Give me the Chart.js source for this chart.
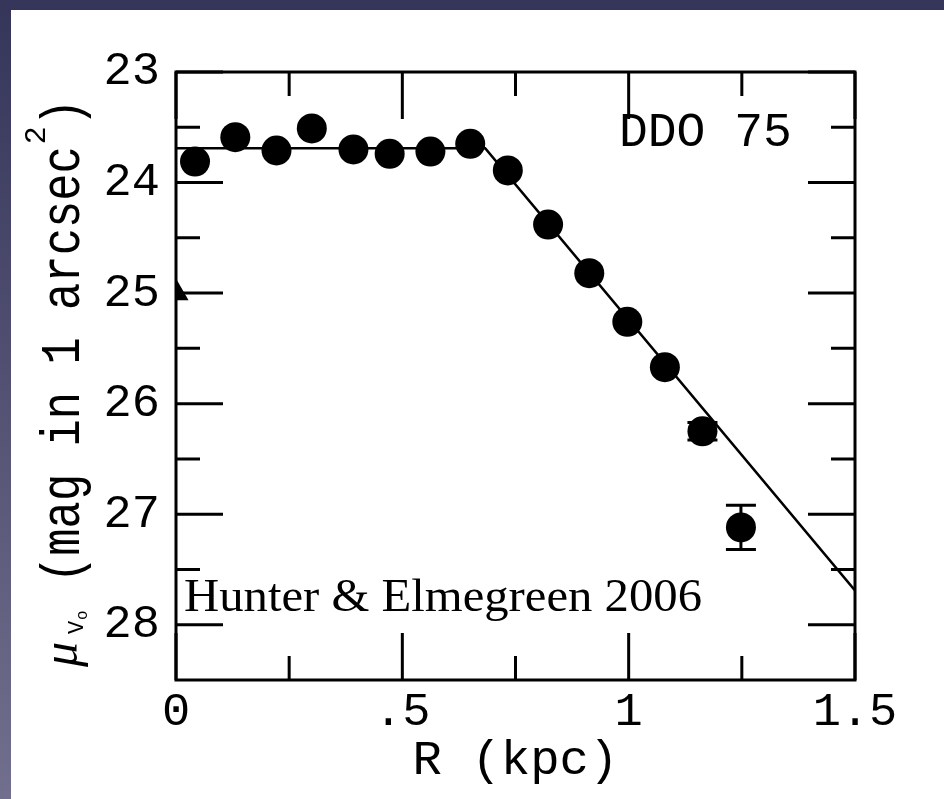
<!DOCTYPE html>
<html>
<head>
<meta charset="utf-8">
<title>DDO 75 surface brightness</title>
<script src="https://cdn.jsdelivr.net/npm/chart.js@4.4.1/dist/chart.umd.min.js"></script>
<style>
  html, body { margin: 0; padding: 0; }
  body { width: 944px; height: 799px; overflow: hidden; background: #fff; }
  canvas { display: block; }
</style>
</head>
<body>
<canvas id="profile" width="944" height="799"></canvas>
<script>
// V-band surface brightness profile of DDO 75
const radius = [0.042, 0.131, 0.222, 0.300, 0.392, 0.472, 0.562, 0.650, 0.733, 0.822, 0.913, 0.997, 1.080, 1.163, 1.248];
const muV = [23.81, 23.59, 23.71, 23.51, 23.70, 23.74, 23.72, 23.65, 23.89, 24.38, 24.82, 25.26, 25.67, 26.25, 27.12];
const muErr = [0, 0, 0, 0, 0, 0, 0, 0, 0, 0, 0, 0, 0, 0.08, 0.20];

// broken exponential fit: flat inner part, then linear fall-off
const fitR = [0, 0.683, 1.5];
const fitMu = [23.69, 23.69, 27.69];

// central value, drawn as a triangle on the axis
const centerR = [0];
const centerMu = [25.0];

// axis ticks
const xTicks = [0, 0.5, 1, 1.5];
const xTickLabels = ['0', '.5', '1', '1.5'];
const xMinor = [0.25, 0.75, 1.25];
const yTicks = [23, 24, 25, 26, 27, 28];
const yMinor = [23.5, 24.5, 25.5, 26.5, 27.5];

const MONO = '"Liberation Mono", "DejaVu Sans Mono", monospace';

// slide background and white panel
const backdrop = {
    id: 'backdrop',
    beforeDraw(chart) {
        const ctx = chart.ctx;
        ctx.save();
        const g = ctx.createLinearGradient(0, 0, 0, chart.height);
        g.addColorStop(0, '#35355a');
        g.addColorStop(1, '#716f8d');
        ctx.fillStyle = g;
        ctx.fillRect(0, 0, chart.width, chart.height);
        ctx.fillStyle = '#ffffff';
        ctx.fillRect(11, 10, chart.width - 11, chart.height - 10);
        ctx.restore();
    }
};

// box frame with inward ticks on all four sides
const frame = {
    id: 'frame',
    beforeDatasetsDraw(chart) {
        const {ctx, chartArea: a, scales: {x, y}} = chart;
        ctx.save();
        ctx.strokeStyle = '#000';
        ctx.lineWidth = 3;
        ctx.lineCap = 'square';
        ctx.strokeRect(a.left, a.top, a.right - a.left, a.bottom - a.top);
        ctx.lineCap = 'butt';
        ctx.beginPath();
        const xt = (v, len) => {
            const px = x.getPixelForValue(v);
            ctx.moveTo(px, a.bottom); ctx.lineTo(px, a.bottom - len);
            ctx.moveTo(px, a.top); ctx.lineTo(px, a.top + len);
        };
        const yt = (v, len) => {
            const py = y.getPixelForValue(v);
            ctx.moveTo(a.left, py); ctx.lineTo(a.left + len, py);
            ctx.moveTo(a.right, py); ctx.lineTo(a.right - len, py);
        };
        xTicks.forEach(v => xt(v, 47));
        xMinor.forEach(v => xt(v, 24));
        yTicks.forEach(v => yt(v, 47));
        yMinor.forEach(v => yt(v, 24));
        ctx.stroke();
        ctx.restore();
    }
};

// error bars with caps
const errorBars = {
    id: 'errorBars',
    afterDatasetsDraw(chart) {
        const {ctx, scales: {x, y}} = chart;
        ctx.save();
        ctx.strokeStyle = '#000';
        ctx.lineWidth = 3;
        ctx.beginPath();
        radius.forEach((r, i) => {
            if (!muErr[i]) return;
            const px = x.getPixelForValue(r);
            const top = y.getPixelForValue(muV[i] - muErr[i]);
            const bot = y.getPixelForValue(muV[i] + muErr[i]);
            ctx.moveTo(px, top); ctx.lineTo(px, bot);
            ctx.moveTo(px - 15, top); ctx.lineTo(px + 15, top);
            ctx.moveTo(px - 15, bot); ctx.lineTo(px + 15, bot);
        });
        ctx.stroke();
        ctx.restore();
    }
};

// galaxy name, reference and the y axis title
const labels = {
    id: 'labels',
    afterDraw(chart) {
        const ctx = chart.ctx;
        ctx.save();
        ctx.fillStyle = '#000';
        ctx.textAlign = 'left';
        ctx.textBaseline = 'alphabetic';

        ctx.font = '48px ' + MONO;
        ctx.fillText('DDO 75', 619, 146);

        ctx.font = '46px "Liberation Serif", serif';
        const ref = 'Hunter & Elmegreen 2006';
        const w = ctx.measureText(ref).width;
        ctx.save();
        ctx.translate(184, 611);
        ctx.scale(518 / w, 1);
        ctx.fillText(ref, 0, 0);
        ctx.restore();

        // rotated title: mu_{V_o} (mag in 1 arcsec^2)
        ctx.translate(83, 667);
        ctx.rotate(-Math.PI / 2);
        ctx.font = 'italic 50px "Liberation Serif", serif';
        ctx.fillText('μ', 0, -6);
        ctx.font = '22px ' + MONO;
        ctx.fillText('V', 33, 0);
        ctx.font = '16px ' + MONO;
        ctx.fillText('o', 47, 4);

        const stretch = 1.2;
        const main = '(mag in 1 arcsec';
        ctx.font = '45.5px ' + MONO;
        ctx.save();
        ctx.translate(0, -4);
        ctx.scale(1, stretch);
        ctx.fillText(main, 84, 0);
        ctx.restore();
        let pos = 84 + ctx.measureText(main).width + 2;
        ctx.font = '30px ' + MONO;
        ctx.fillText('2', pos, -38);
        pos += ctx.measureText('2').width;
        ctx.font = '45.5px ' + MONO;
        ctx.save();
        ctx.translate(0, -4);
        ctx.scale(1, stretch);
        ctx.fillText(')', pos, 0);
        ctx.restore();
        ctx.restore();
    }
};

new Chart(document.getElementById('profile'), {
    type: 'scatter',
    data: {
        datasets: [
            {
                type: 'line',
                data: fitR.map((r, i) => ({x: r, y: fitMu[i]})),
                showLine: true,
                borderColor: '#000',
                borderWidth: 2.6,
                pointRadius: 0,
                fill: false,
                tension: 0,
                order: 3
            },
            {
                data: radius.map((r, i) => ({x: r, y: muV[i]})),
                backgroundColor: '#000',
                borderWidth: 0,
                pointRadius: 15,
                pointHoverRadius: 15,
                order: 1
            },
            {
                data: centerR.map((r, i) => ({x: r, y: centerMu[i]})),
                pointStyle: 'triangle',
                backgroundColor: '#000',
                borderWidth: 0,
                pointRadius: 14.5,
                pointHoverRadius: 14.5,
                clip: 0,
                order: 2
            }
        ]
    },
    options: {
        responsive: false,
        animation: false,
        events: [],
        layout: {padding: {left: 0, top: 72, right: 89, bottom: 0}},
        plugins: {
            legend: {display: false},
            tooltip: {enabled: false}
        },
        scales: {
            x: {
                type: 'linear',
                min: 0,
                max: 1.5,
                grid: {display: false},
                border: {display: false},
                afterBuildTicks: s => { s.ticks = xTicks.map(v => ({value: v})); },
                afterFit: s => { s.height = 119; },
                ticks: {
                    callback: v => xTickLabels[xTicks.indexOf(v)],
                    font: {family: MONO, size: 47},
                    color: '#000',
                    padding: -4,
                    maxRotation: 0,
                    autoSkip: false
                },
                title: {
                    display: true,
                    text: 'R (kpc)',
                    font: {family: MONO, size: 49},
                    color: '#000',
                    padding: {top: 0, bottom: 9}
                }
            },
            y: {
                type: 'linear',
                reverse: true,
                min: 23,
                max: 28.5,
                grid: {display: false},
                border: {display: false},
                afterBuildTicks: s => { s.ticks = yTicks.map(v => ({value: v})); },
                afterFit: s => { s.width = 176; },
                ticks: {
                    font: {family: MONO, size: 47},
                    color: '#000',
                    padding: 8,
                    autoSkip: false
                }
            }
        }
    },
    plugins: [backdrop, frame, errorBars, labels]
});
</script>
</body>
</html>
